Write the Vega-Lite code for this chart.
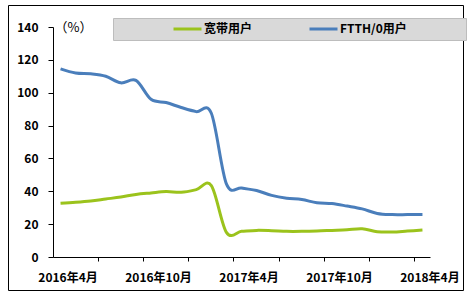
{
  "$schema": "https://vega.github.io/schema/vega-lite/v6.json",
  "width": 455,
  "height": 285,
  "autosize": {"type": "none"},
  "padding": {"left": 8, "top": 5, "right": 8, "bottom": 8},
  "background": "white",
  "config": {"view": {"stroke": "black", "strokeWidth": 1}, "font": "Noto Sans CJK SC"},
  "data": {"values": [
    {"month": "2016年4月", "series": "宽带用户", "value": 32.7},
    {"month": "2016年5月", "series": "宽带用户", "value": 33.3},
    {"month": "2016年6月", "series": "宽带用户", "value": 34.1},
    {"month": "2016年7月", "series": "宽带用户", "value": 35.3},
    {"month": "2016年8月", "series": "宽带用户", "value": 36.5},
    {"month": "2016年9月", "series": "宽带用户", "value": 38.1},
    {"month": "2016年10月", "series": "宽带用户", "value": 39.0},
    {"month": "2016年11月", "series": "宽带用户", "value": 39.8},
    {"month": "2016年12月", "series": "宽带用户", "value": 39.4},
    {"month": "2017年1月", "series": "宽带用户", "value": 41.0},
    {"month": "2017年2月", "series": "宽带用户", "value": 43.5},
    {"month": "2017年3月", "series": "宽带用户", "value": 15.0},
    {"month": "2017年4月", "series": "宽带用户", "value": 15.6},
    {"month": "2017年5月", "series": "宽带用户", "value": 16.2},
    {"month": "2017年6月", "series": "宽带用户", "value": 16.0},
    {"month": "2017年7月", "series": "宽带用户", "value": 15.6},
    {"month": "2017年8月", "series": "宽带用户", "value": 15.6},
    {"month": "2017年9月", "series": "宽带用户", "value": 15.8},
    {"month": "2017年10月", "series": "宽带用户", "value": 16.2},
    {"month": "2017年11月", "series": "宽带用户", "value": 16.6},
    {"month": "2017年12月", "series": "宽带用户", "value": 17.2},
    {"month": "2018年1月", "series": "宽带用户", "value": 15.4},
    {"month": "2018年2月", "series": "宽带用户", "value": 15.2},
    {"month": "2018年3月", "series": "宽带用户", "value": 15.8},
    {"month": "2018年4月", "series": "宽带用户", "value": 16.4},
    {"month": "2016年4月", "series": "FTTH/0用户", "value": 114.5},
    {"month": "2016年5月", "series": "FTTH/0用户", "value": 112.0},
    {"month": "2016年6月", "series": "FTTH/0用户", "value": 111.5},
    {"month": "2016年7月", "series": "FTTH/0用户", "value": 110.0},
    {"month": "2016年8月", "series": "FTTH/0用户", "value": 106.0},
    {"month": "2016年9月", "series": "FTTH/0用户", "value": 107.5},
    {"month": "2016年10月", "series": "FTTH/0用户", "value": 96.0},
    {"month": "2016年11月", "series": "FTTH/0用户", "value": 94.0},
    {"month": "2016年12月", "series": "FTTH/0用户", "value": 91.0},
    {"month": "2017年1月", "series": "FTTH/0用户", "value": 88.5},
    {"month": "2017年2月", "series": "FTTH/0用户", "value": 87.5},
    {"month": "2017年3月", "series": "FTTH/0用户", "value": 44.5},
    {"month": "2017年4月", "series": "FTTH/0用户", "value": 42.0},
    {"month": "2017年5月", "series": "FTTH/0用户", "value": 40.5},
    {"month": "2017年6月", "series": "FTTH/0用户", "value": 37.5},
    {"month": "2017年7月", "series": "FTTH/0用户", "value": 35.8},
    {"month": "2017年8月", "series": "FTTH/0用户", "value": 35.0},
    {"month": "2017年9月", "series": "FTTH/0用户", "value": 33.0},
    {"month": "2017年10月", "series": "FTTH/0用户", "value": 32.5},
    {"month": "2017年11月", "series": "FTTH/0用户", "value": 31.0},
    {"month": "2017年12月", "series": "FTTH/0用户", "value": 29.3},
    {"month": "2018年1月", "series": "FTTH/0用户", "value": 26.5},
    {"month": "2018年2月", "series": "FTTH/0用户", "value": 25.8},
    {"month": "2018年3月", "series": "FTTH/0用户", "value": 25.8},
    {"month": "2018年4月", "series": "FTTH/0用户", "value": 25.8}
  ]},
  "mark": {"type": "line", "interpolate": "cardinal", "strokeWidth": 3},
  "encoding": {
    "x": {
      "field": "month", "type": "ordinal", "bandPosition": 0.5,
      "scale": {"type": "band", "range": [45, 422], "paddingInner": 0, "paddingOuter": 0,
        "domain": ["2016年4月","2016年5月","2016年6月","2016年7月","2016年8月","2016年9月","2016年10月","2016年11月","2016年12月","2017年1月","2017年2月","2017年3月","2017年4月","2017年5月","2017年6月","2017年7月","2017年8月","2017年9月","2017年10月","2017年11月","2017年12月","2018年1月","2018年2月","2018年3月","2018年4月"]},
      "axis": {
        "title": null, "bandPosition": 0, "offset": -33,
        "values": ["2016年4月","2016年7月","2016年10月","2017年1月","2017年4月","2017年7月","2017年10月","2018年1月","2018年4月"],
        "labelExpr": "indexof(['2016年4月','2016年10月','2017年4月','2017年10月','2018年4月'], datum.value) >= 0 ? datum.value : ''",
        "labelOffset": 7.5, "labelAngle": 0, "labelFontSize": 12, "labelFontWeight": "bold", "labelColor": "black",
        "labelPadding": 11, "labelOverlap": false, "labelBound": false,
        "tickSize": 4, "tickColor": "black", "domainColor": "black", "grid": false,
        "tickOpacity": {"condition": {"test": "datum.value === '2016年4月'", "value": 0}, "value": 1}
      }
    },
    "y": {
      "field": "value", "type": "quantitative",
      "scale": {"domain": [0, 140], "nice": false, "range": [252, 22]},
      "axis": {
        "title": "（%）", "titleAngle": 0, "titleAlign": "left", "titleBaseline": "middle",
        "titleX": 1, "titleY": 22, "titleFontSize": 13, "titleFontWeight": "normal", "titleColor": "black",
        "offset": -45, "values": [0, 20, 40, 60, 80, 100, 120, 140],
        "labelFontSize": 12, "labelFontWeight": "bold", "labelColor": "black", "labelPadding": 10,
        "tickSize": 5, "tickColor": "black", "domainColor": "black", "grid": false
      }
    },
    "color": {
      "field": "series", "type": "nominal",
      "scale": {"domain": ["宽带用户", "FTTH/0用户"], "range": ["#9BC31C", "#4A7EBB"]},
      "legend": {
        "title": " ", "titleOrient": "right", "titlePadding": 55, "titleFontSize": 12,
        "orient": "none", "legendX": 105, "legendY": 13, "direction": "horizontal",
        "fillColor": "#d9d9d9", "strokeColor": "#bdbdbd", "padding": 4, "clipHeight": 14,
        "symbolType": "stroke", "symbolStrokeWidth": 3, "symbolSize": 784, "symbolOffset": 55,
        "labelFontSize": 12, "labelFontWeight": "bold", "labelColor": "black", "labelOffset": 1,
        "columnPadding": -5
      }
    }
  }
}
